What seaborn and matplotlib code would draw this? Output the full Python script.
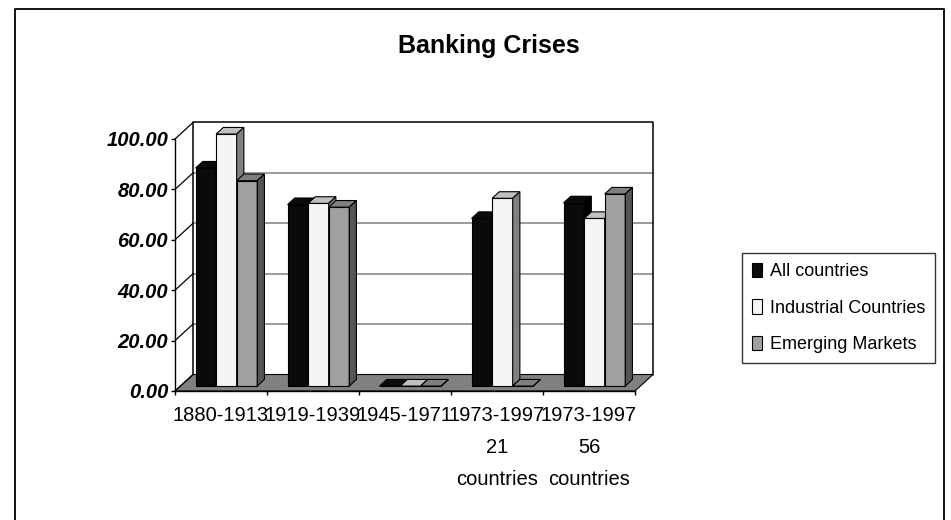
import numpy as np
import pandas as pd
import matplotlib
matplotlib.use("Agg")
import matplotlib.pyplot as plt
import matplotlib.transforms as mtransforms
from matplotlib.patches import Polygon, Rectangle
from matplotlib.lines import Line2D
import seaborn as sns

# ---- data -------------------------------------------------------------
periods = ['1880-1913', '1919-1939', '1945-1971',
           '1973-1997\n21\ncountries', '1973-1997\n56\ncountries']
series_names = ['All countries', 'Industrial Countries', 'Emerging Markets']
all_countries = [86.5, 72.0, 0.0, 66.5, 72.7]
industrial = [100.0, 72.5, 0.0, 74.5, 66.5]
emerging = [81.5, 71.0, 0.0, 0.0, 76.2]
y_ticks = [0, 20, 40, 60, 80, 100]

# ---- style ------------------------------------------------------------
front_colors = ['#0a0a0a', '#f5f5f5', '#a0a0a0']
top_colors = ['#0a0a0a', '#c0c0c0', '#808080']
side_colors = ['#000000', '#808080', '#555555']
floor_color = '#808080'
grid_color = '#808080'

sns.set_theme(style='white')
plt.rcParams['font.family'] = ['Liberation Sans', 'DejaVu Sans']
for key in ('text.color', 'axes.labelcolor', 'xtick.color', 'ytick.color'):
    plt.rcParams[key] = 'black'

df = pd.DataFrame({
    'period': periods * 3,
    'series': np.repeat(series_names, len(periods)),
    'value': all_countries + industrial + emerging,
})

W, H = 951, 520
fig = plt.figure(figsize=(W / 100, H / 100), dpi=100)

# oblique depth offsets (category units / value units for the full depth)
DX = 18 / 92
DY = 16.5 / 2.52
D0, D1 = 0.3, 0.7          # front / back depth of the columns
X_LO, X_HI = -0.5, len(periods) - 0.5
V_TOP = 100


def proj(c, v, d):
    return (c + d * DX, v + d * DY)


ax = fig.add_axes([175 / W, (H - 391) / H,
                   (X_HI - X_LO + DX) * 92 / W, (V_TOP + DY) * 2.52 / H])

sns.barplot(data=df, x='period', y='value', hue='series',
            palette=front_colors, saturation=1, width=0.67,
            edgecolor='black', linewidth=0.8, errorbar=None,
            legend=False, ax=ax)

ax.set_xlim(X_LO, X_HI + DX)
ax.set_ylim(0, V_TOP + DY)
ax.grid(False)
ax.set_facecolor('none')
ax.set_xlabel('')
ax.set_ylabel('')

# columns: shift the front faces back and add tops and right sides
shift = mtransforms.Affine2D().translate(D0 * DX, D0 * DY) + ax.transData
bars = list(ax.patches)
for p in bars:
    x0, w, h = p.get_x(), p.get_width(), p.get_height()
    centre = x0 + w / 2
    k = int(round((centre - round(centre)) / w)) + 1
    z = 3 + centre
    p.set_transform(shift)
    p.set_zorder(z)
    top = Polygon([proj(x0, h, D0), proj(x0 + w, h, D0),
                   proj(x0 + w, h, D1), proj(x0, h, D1)],
                  closed=True, fc=top_colors[k], ec='black', lw=0.8,
                  zorder=z + 0.001)
    side = Polygon([proj(x0 + w, 0, D0), proj(x0 + w, h, D0),
                    proj(x0 + w, h, D1), proj(x0 + w, 0, D1)],
                   closed=True, fc=side_colors[k], ec='black', lw=0.8,
                   zorder=z + 0.002)
    ax.add_patch(top)
    ax.add_patch(side)

# back wall
ax.add_patch(Polygon([proj(X_LO, 0, 1), proj(X_HI, 0, 1),
                      proj(X_HI, V_TOP, 1), proj(X_LO, V_TOP, 1)],
                     closed=True, fc='white', ec='none', zorder=0.5,
                     clip_on=False))
for v in y_ticks[1:-1]:
    (xa, ya), (xb, yb) = proj(X_LO, v, 1), proj(X_HI, v, 1)
    ax.add_line(Line2D([xa, xb], [ya, yb], color=grid_color, lw=1.1,
                       zorder=0.8, clip_on=False))
wall_edge = [proj(X_LO, 0, 1), proj(X_LO, V_TOP, 1),
             proj(X_HI, V_TOP, 1), proj(X_HI, 0, 1)]
ax.add_line(Line2D([p[0] for p in wall_edge], [p[1] for p in wall_edge],
                   color='black', lw=1.1, zorder=0.9, clip_on=False))

# floor
ax.add_patch(Polygon([proj(X_LO, 0, 0), proj(X_HI, 0, 0),
                      proj(X_HI, 0, 1), proj(X_LO, 0, 1)],
                     closed=True, fc=floor_color, ec='black', lw=0.8,
                     zorder=1, clip_on=False))

# side-wall tick diagonals
for v in y_ticks:
    (xa, ya), (xb, yb) = proj(X_LO, v, 0), proj(X_LO, v, 1)
    ax.add_line(Line2D([xa, xb], [ya, yb], color='black', lw=0.9,
                       zorder=1.2, clip_on=False))

# axes lines and ticks
for s in ('top', 'right'):
    ax.spines[s].set_visible(False)
ax.spines['left'].set_bounds(0, V_TOP)
ax.spines['bottom'].set_bounds(X_LO, X_HI)
for s in ('left', 'bottom'):
    ax.spines[s].set_color('black')
    ax.spines[s].set_linewidth(1.0)
    ax.spines[s].set_zorder(2)

ax.set_yticks(y_ticks)
ax.set_yticklabels([f'{v:.2f}' for v in y_ticks],
                   fontsize=14.5, fontweight='bold', fontstyle='italic')
ax.tick_params(axis='y', which='major', direction='out', length=3,
               width=1, pad=2, left=True)

ax.set_xticks(np.arange(len(periods)))
ax.set_xticklabels(periods, fontsize=14.5, linespacing=1.85)
ax.set_xticks(np.arange(X_LO, X_HI + 0.01, 1.0), minor=True)
ax.tick_params(axis='x', which='major', length=0, pad=11)
ax.tick_params(axis='x', which='minor', direction='out', length=3,
               width=1, bottom=True)

# legend
handles = [Rectangle((0, 0), 1, 1, fc=c, ec='black', lw=0.8)
           for c in front_colors]
leg = ax.legend(handles, series_names, loc='upper left',
                bbox_to_anchor=(742 / W, 1 - 253 / H),
                bbox_transform=fig.transFigure, frameon=True,
                fancybox=False, shadow=False, edgecolor='black',
                fontsize=13, handlelength=0.55, handleheight=0.85,
                handletextpad=0.45, labelspacing=1.05, borderpad=0.55,
                borderaxespad=0)
leg.get_frame().set_linewidth(1.0)

# title
fig.text(489 / W, 1 - 46 / H, 'Banking Crises', ha='center', va='center',
         fontsize=18, fontweight='bold')

# outer chart border
fx0, fx1, fy1 = 15 / W, 944 / W, 1 - 9 / H
fig.add_artist(Line2D([fx0, fx0, fx1, fx1], [0, fy1, fy1, 0],
                      transform=fig.transFigure, color='black', lw=1.3))

fig.savefig('out.png', dpi=100)
